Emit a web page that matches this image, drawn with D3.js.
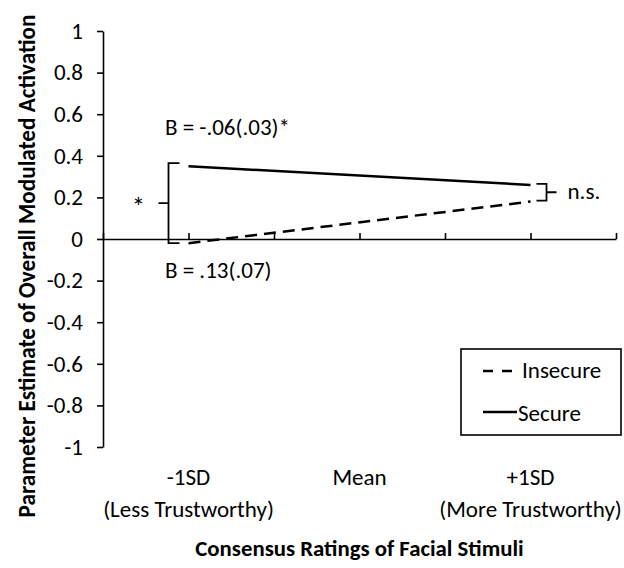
<!DOCTYPE html>
<html>
<head>
<meta charset="utf-8">
<script src="https://cdn.jsdelivr.net/npm/d3@7"></script>
<style>
  html, body { margin: 0; padding: 0; background: #fff; }
  svg { display: block; font-family: Carlito, Lato, "Open Sans", sans-serif; }
</style>
</head>
<body>
<svg id="chart" width="624" height="568"></svg>
<script>
// ---- data ----
const categories = ["-1SD", "Mean", "+1SD"];
const categorySub = ["(Less Trustworthy)", "", "(More Trustworthy)"];
const categoryX = [-1, 0, 1];
const lineX = [-1, 1];
const secure = [0.35, 0.26];
const insecure = [-0.02, 0.18];
const yTicks = [1, 0.8, 0.6, 0.4, 0.2, 0, -0.2, -0.4, -0.6, -0.8, -1];
const xTicks = [-1.5, -1, -0.5, 0, 0.5, 1, 1.5];
const seriesNames = ["Insecure", "Secure"];
const annotTop = "B = -.06(.03)*";
const annotBottom = "B = .13(.07)";
const yTitle = "Parameter Estimate of Overall Modulated Activation";
const xTitle = "Consensus Ratings of Facial Stimuli";

const svg = d3.select("#chart");
const x = d3.scaleLinear().domain([-1.5, 1.5]).range([103, 616]);
const y = d3.scaleLinear().domain([-1, 1]).range([447, 31]);
const FS = 23;
const dash = "12,7";

// y axis
const yAxis = svg.append("g").attr("transform", `translate(${x(-1.5)},0)`)
  .call(d3.axisLeft(y).tickValues(yTicks).tickSize(6).tickSizeOuter(0).tickPadding(14)
    .tickFormat(d => String(+d.toFixed(1))));
yAxis.select(".domain").attr("stroke", "#000").attr("stroke-width", 1.6);
yAxis.selectAll(".tick line").attr("stroke", "#000").attr("stroke-width", 1.6);
yAxis.selectAll(".tick text").attr("font-size", FS).attr("fill", "#000")
  .attr("font-family", "Carlito, Lato, sans-serif");

// x axis at y=0
const xAxis = svg.append("g").attr("transform", `translate(0,${y(0)})`)
  .call(d3.axisTop(x).tickValues(xTicks).tickSize(6).tickSizeOuter(0).tickFormat(""));
xAxis.select(".domain").attr("stroke", "#000").attr("stroke-width", 1.6);
xAxis.selectAll(".tick line").attr("stroke", "#000").attr("stroke-width", 1.6);

// lines
const line = d3.line().x((d, i) => x(lineX[i])).y(d => y(d));
svg.append("path").datum(secure).attr("d", line)
  .attr("fill", "none").attr("stroke", "#000").attr("stroke-width", 2.5);
svg.append("path").datum(insecure).attr("d", line)
  .attr("fill", "none").attr("stroke", "#000").attr("stroke-width", 2.5)
  .attr("stroke-dasharray", dash);

// left bracket
const lx = x(lineX[0]);
const lt = y(secure[0]) - 3, lb = y(insecure[0]);
const lm = (lt + lb) / 2;
svg.append("path")
  .attr("d", `M${lx - 9},${lt} H${lx - 20} V${lb} H${lx - 9} M${lx - 20},${lm} H${lx - 30}`)
  .attr("fill", "none").attr("stroke", "#000").attr("stroke-width", 1.8);
svg.append("text").attr("x", lx - 50).attr("y", lm + 12.5).attr("text-anchor", "middle")
  .attr("font-size", 27).text("*");

// right bracket
const rx = x(lineX[1]);
const rt = y(secure[1]) - 1, rb = y(insecure[1]) - 1;
const rm = (rt + rb) / 2;
svg.append("path")
  .attr("d", `M${rx + 6},${rt} H${rx + 16} V${rb} H${rx + 6} M${rx + 16},${rm} H${rx + 26}`)
  .attr("fill", "none").attr("stroke", "#000").attr("stroke-width", 1.8);
svg.append("text").attr("x", rx + 37).attr("y", rm + 7)
  .attr("font-size", FS).text("n.s.");

// annotations
svg.append("text").attr("x", 165).attr("y", 135).attr("font-size", FS).text(annotTop);
svg.append("text").attr("x", 165).attr("y", 278).attr("font-size", FS).text(annotBottom);

// category labels
categories.forEach((c, i) => {
  svg.append("text").attr("x", x(categoryX[i])).attr("y", 485)
    .attr("text-anchor", "middle").attr("font-size", FS).text(c);
  if (categorySub[i]) {
    svg.append("text").attr("x", x(categoryX[i])).attr("y", 517)
      .attr("text-anchor", "middle").attr("font-size", FS).text(categorySub[i]);
  }
});

// titles
svg.append("text").attr("x", x(0)).attr("y", 556).attr("text-anchor", "middle")
  .attr("font-size", 22.8).attr("font-weight", "bold").text(xTitle);
svg.append("text").attr("transform", `translate(35,266) rotate(-90)`)
  .attr("text-anchor", "middle").attr("font-size", 23.2).attr("font-weight", "bold").text(yTitle);

// legend
const lg = svg.append("g");
lg.append("rect").attr("x", 461).attr("y", 349).attr("width", 160).attr("height", 86)
  .attr("fill", "#fff").attr("stroke", "#000").attr("stroke-width", 1.6);
lg.append("line").attr("x1", 483).attr("x2", 513).attr("y1", 371).attr("y2", 371)
  .attr("stroke", "#000").attr("stroke-width", 2.5).attr("stroke-dasharray", "10,9");
lg.append("text").attr("x", 522).attr("y", 378).attr("font-size", FS).text(seriesNames[0]);
lg.append("line").attr("x1", 483).attr("x2", 517).attr("y1", 412).attr("y2", 412)
  .attr("stroke", "#000").attr("stroke-width", 2.5);
lg.append("text").attr("x", 518).attr("y", 420.5).attr("font-size", FS).text(seriesNames[1]);
</script>
</body>
</html>
